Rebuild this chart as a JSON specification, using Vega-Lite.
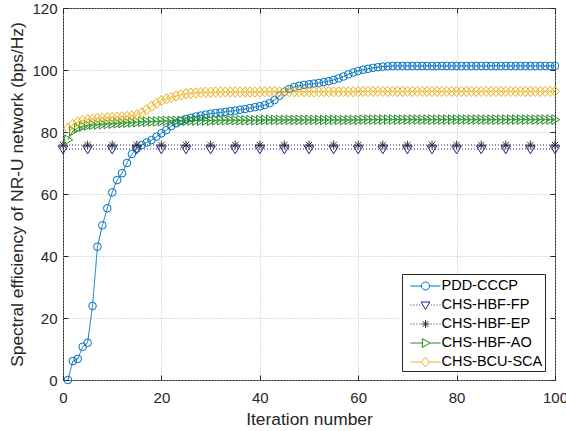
{
  "$schema": "https://vega.github.io/schema/vega-lite/v6.json",
  "width": 492,
  "height": 372,
  "autosize": {"type": "none"},
  "padding": {"left": 63, "top": 8, "right": 11, "bottom": 51},
  "background": "white",
  "config": {
    "font": "Liberation Sans",
    "view": {"stroke": "#262626", "strokeWidth": 1}
  },
  "data": {"values": [
    {"s":"PDD-CCCP","x":1,"y":0},{"s":"PDD-CCCP","x":2,"y":6.1},{"s":"PDD-CCCP","x":3,"y":6.8},{"s":"PDD-CCCP","x":4,"y":10.7},{"s":"PDD-CCCP","x":5,"y":12.0},
    {"s":"PDD-CCCP","x":6,"y":23.9},{"s":"PDD-CCCP","x":7,"y":43.0},{"s":"PDD-CCCP","x":8,"y":49.9},{"s":"PDD-CCCP","x":9,"y":55.4},{"s":"PDD-CCCP","x":10,"y":60.5},
    {"s":"PDD-CCCP","x":11,"y":64.5},{"s":"PDD-CCCP","x":12,"y":66.7},{"s":"PDD-CCCP","x":13,"y":70.0},{"s":"PDD-CCCP","x":14,"y":72.9},{"s":"PDD-CCCP","x":15,"y":74.7},
    {"s":"PDD-CCCP","x":16,"y":75.8},{"s":"PDD-CCCP","x":17,"y":76.6},{"s":"PDD-CCCP","x":18,"y":77.4},{"s":"PDD-CCCP","x":19,"y":78.5},{"s":"PDD-CCCP","x":20,"y":79.6},
    {"s":"PDD-CCCP","x":21,"y":80.6},{"s":"PDD-CCCP","x":22,"y":81.9},{"s":"PDD-CCCP","x":23,"y":82.8},{"s":"PDD-CCCP","x":24,"y":83.6},{"s":"PDD-CCCP","x":25,"y":84.2},
    {"s":"PDD-CCCP","x":26,"y":84.6},{"s":"PDD-CCCP","x":27,"y":85.0},{"s":"PDD-CCCP","x":28,"y":85.3},{"s":"PDD-CCCP","x":29,"y":85.6},{"s":"PDD-CCCP","x":30,"y":85.9},
    {"s":"PDD-CCCP","x":31,"y":86.1},{"s":"PDD-CCCP","x":32,"y":86.3},{"s":"PDD-CCCP","x":33,"y":86.5},{"s":"PDD-CCCP","x":34,"y":86.7},{"s":"PDD-CCCP","x":35,"y":86.9},
    {"s":"PDD-CCCP","x":36,"y":87.2},{"s":"PDD-CCCP","x":37,"y":87.4},{"s":"PDD-CCCP","x":38,"y":87.7},{"s":"PDD-CCCP","x":39,"y":88.0},{"s":"PDD-CCCP","x":40,"y":88.3},
    {"s":"PDD-CCCP","x":41,"y":88.7},{"s":"PDD-CCCP","x":42,"y":89.3},{"s":"PDD-CCCP","x":43,"y":90.3},{"s":"PDD-CCCP","x":44,"y":91.7},{"s":"PDD-CCCP","x":45,"y":93.0},
    {"s":"PDD-CCCP","x":46,"y":93.9},{"s":"PDD-CCCP","x":47,"y":94.5},{"s":"PDD-CCCP","x":48,"y":94.9},{"s":"PDD-CCCP","x":49,"y":95.2},{"s":"PDD-CCCP","x":50,"y":95.4},
    {"s":"PDD-CCCP","x":51,"y":95.6},{"s":"PDD-CCCP","x":52,"y":95.8},{"s":"PDD-CCCP","x":53,"y":96.1},{"s":"PDD-CCCP","x":54,"y":96.4},{"s":"PDD-CCCP","x":55,"y":96.8},
    {"s":"PDD-CCCP","x":56,"y":97.3},{"s":"PDD-CCCP","x":57,"y":97.9},{"s":"PDD-CCCP","x":58,"y":98.6},{"s":"PDD-CCCP","x":59,"y":99.2},{"s":"PDD-CCCP","x":60,"y":99.7},
    {"s":"PDD-CCCP","x":61,"y":100.1},{"s":"PDD-CCCP","x":62,"y":100.4},{"s":"PDD-CCCP","x":63,"y":100.7},{"s":"PDD-CCCP","x":64,"y":100.9},{"s":"PDD-CCCP","x":65,"y":101.1},
    {"s":"PDD-CCCP","x":66,"y":101.2},{"s":"PDD-CCCP","x":67,"y":101.3},{"s":"PDD-CCCP","x":68,"y":101.3},{"s":"PDD-CCCP","x":69,"y":101.3},{"s":"PDD-CCCP","x":70,"y":101.3},
    {"s":"PDD-CCCP","x":71,"y":101.3},{"s":"PDD-CCCP","x":72,"y":101.3},{"s":"PDD-CCCP","x":73,"y":101.3},{"s":"PDD-CCCP","x":74,"y":101.3},{"s":"PDD-CCCP","x":75,"y":101.3},
    {"s":"PDD-CCCP","x":76,"y":101.3},{"s":"PDD-CCCP","x":77,"y":101.3},{"s":"PDD-CCCP","x":78,"y":101.3},{"s":"PDD-CCCP","x":79,"y":101.3},{"s":"PDD-CCCP","x":80,"y":101.3},
    {"s":"PDD-CCCP","x":81,"y":101.3},{"s":"PDD-CCCP","x":82,"y":101.3},{"s":"PDD-CCCP","x":83,"y":101.3},{"s":"PDD-CCCP","x":84,"y":101.3},{"s":"PDD-CCCP","x":85,"y":101.3},
    {"s":"PDD-CCCP","x":86,"y":101.3},{"s":"PDD-CCCP","x":87,"y":101.3},{"s":"PDD-CCCP","x":88,"y":101.3},{"s":"PDD-CCCP","x":89,"y":101.3},{"s":"PDD-CCCP","x":90,"y":101.3},
    {"s":"PDD-CCCP","x":91,"y":101.3},{"s":"PDD-CCCP","x":92,"y":101.3},{"s":"PDD-CCCP","x":93,"y":101.3},{"s":"PDD-CCCP","x":94,"y":101.3},{"s":"PDD-CCCP","x":95,"y":101.3},
    {"s":"PDD-CCCP","x":96,"y":101.3},{"s":"PDD-CCCP","x":97,"y":101.3},{"s":"PDD-CCCP","x":98,"y":101.3},{"s":"PDD-CCCP","x":99,"y":101.3},{"s":"PDD-CCCP","x":100,"y":101.3},

    {"s":"CHS-HBF-FP","x":0,"y":74.5},{"s":"CHS-HBF-FP","x":5,"y":74.5},{"s":"CHS-HBF-FP","x":10,"y":74.5},{"s":"CHS-HBF-FP","x":15,"y":74.5},{"s":"CHS-HBF-FP","x":20,"y":74.5},
    {"s":"CHS-HBF-FP","x":25,"y":74.5},{"s":"CHS-HBF-FP","x":30,"y":74.5},{"s":"CHS-HBF-FP","x":35,"y":74.5},{"s":"CHS-HBF-FP","x":40,"y":74.5},{"s":"CHS-HBF-FP","x":45,"y":74.5},
    {"s":"CHS-HBF-FP","x":50,"y":74.5},{"s":"CHS-HBF-FP","x":55,"y":74.5},{"s":"CHS-HBF-FP","x":60,"y":74.5},{"s":"CHS-HBF-FP","x":65,"y":74.5},{"s":"CHS-HBF-FP","x":70,"y":74.5},
    {"s":"CHS-HBF-FP","x":75,"y":74.5},{"s":"CHS-HBF-FP","x":80,"y":74.5},{"s":"CHS-HBF-FP","x":85,"y":74.5},{"s":"CHS-HBF-FP","x":90,"y":74.5},{"s":"CHS-HBF-FP","x":95,"y":74.5},
    {"s":"CHS-HBF-FP","x":100,"y":74.5},

    {"s":"CHS-HBF-EP","x":0,"y":75.8},{"s":"CHS-HBF-EP","x":5,"y":75.8},{"s":"CHS-HBF-EP","x":10,"y":75.8},{"s":"CHS-HBF-EP","x":15,"y":75.8},{"s":"CHS-HBF-EP","x":20,"y":75.8},
    {"s":"CHS-HBF-EP","x":25,"y":75.8},{"s":"CHS-HBF-EP","x":30,"y":75.8},{"s":"CHS-HBF-EP","x":35,"y":75.8},{"s":"CHS-HBF-EP","x":40,"y":75.8},{"s":"CHS-HBF-EP","x":45,"y":75.8},
    {"s":"CHS-HBF-EP","x":50,"y":75.8},{"s":"CHS-HBF-EP","x":55,"y":75.8},{"s":"CHS-HBF-EP","x":60,"y":75.8},{"s":"CHS-HBF-EP","x":65,"y":75.8},{"s":"CHS-HBF-EP","x":70,"y":75.8},
    {"s":"CHS-HBF-EP","x":75,"y":75.8},{"s":"CHS-HBF-EP","x":80,"y":75.8},{"s":"CHS-HBF-EP","x":85,"y":75.8},{"s":"CHS-HBF-EP","x":90,"y":75.8},{"s":"CHS-HBF-EP","x":95,"y":75.8},
    {"s":"CHS-HBF-EP","x":100,"y":75.8},

    {"s":"CHS-HBF-AO","x":1,"y":77.5},{"s":"CHS-HBF-AO","x":2,"y":80.3},{"s":"CHS-HBF-AO","x":3,"y":81.3},{"s":"CHS-HBF-AO","x":4,"y":81.8},{"s":"CHS-HBF-AO","x":5,"y":82.1},
    {"s":"CHS-HBF-AO","x":6,"y":82.3},{"s":"CHS-HBF-AO","x":7,"y":82.4},{"s":"CHS-HBF-AO","x":8,"y":82.5},{"s":"CHS-HBF-AO","x":9,"y":82.6},{"s":"CHS-HBF-AO","x":10,"y":82.7},
    {"s":"CHS-HBF-AO","x":11,"y":82.8},{"s":"CHS-HBF-AO","x":12,"y":82.9},{"s":"CHS-HBF-AO","x":13,"y":83.0},{"s":"CHS-HBF-AO","x":14,"y":83.1},{"s":"CHS-HBF-AO","x":15,"y":83.2},
    {"s":"CHS-HBF-AO","x":16,"y":83.3},{"s":"CHS-HBF-AO","x":17,"y":83.3},{"s":"CHS-HBF-AO","x":18,"y":83.4},{"s":"CHS-HBF-AO","x":19,"y":83.4},{"s":"CHS-HBF-AO","x":20,"y":83.5},
    {"s":"CHS-HBF-AO","x":21,"y":83.6},{"s":"CHS-HBF-AO","x":22,"y":83.6},{"s":"CHS-HBF-AO","x":23,"y":83.6},{"s":"CHS-HBF-AO","x":24,"y":83.6},{"s":"CHS-HBF-AO","x":25,"y":83.6},
    {"s":"CHS-HBF-AO","x":26,"y":83.7},{"s":"CHS-HBF-AO","x":27,"y":83.7},{"s":"CHS-HBF-AO","x":28,"y":83.7},{"s":"CHS-HBF-AO","x":29,"y":83.7},{"s":"CHS-HBF-AO","x":30,"y":83.7},
    {"s":"CHS-HBF-AO","x":31,"y":83.8},{"s":"CHS-HBF-AO","x":32,"y":83.8},{"s":"CHS-HBF-AO","x":33,"y":83.8},{"s":"CHS-HBF-AO","x":34,"y":83.8},{"s":"CHS-HBF-AO","x":35,"y":83.8},
    {"s":"CHS-HBF-AO","x":36,"y":83.8},{"s":"CHS-HBF-AO","x":37,"y":83.8},{"s":"CHS-HBF-AO","x":38,"y":83.8},{"s":"CHS-HBF-AO","x":39,"y":83.8},{"s":"CHS-HBF-AO","x":40,"y":83.8},
    {"s":"CHS-HBF-AO","x":41,"y":83.9},{"s":"CHS-HBF-AO","x":42,"y":83.9},{"s":"CHS-HBF-AO","x":43,"y":83.9},{"s":"CHS-HBF-AO","x":44,"y":83.9},{"s":"CHS-HBF-AO","x":45,"y":83.9},
    {"s":"CHS-HBF-AO","x":46,"y":83.9},{"s":"CHS-HBF-AO","x":47,"y":83.9},{"s":"CHS-HBF-AO","x":48,"y":83.9},{"s":"CHS-HBF-AO","x":49,"y":83.9},{"s":"CHS-HBF-AO","x":50,"y":83.9},
    {"s":"CHS-HBF-AO","x":51,"y":83.9},{"s":"CHS-HBF-AO","x":52,"y":83.9},{"s":"CHS-HBF-AO","x":53,"y":83.9},{"s":"CHS-HBF-AO","x":54,"y":83.9},{"s":"CHS-HBF-AO","x":55,"y":83.9},
    {"s":"CHS-HBF-AO","x":56,"y":83.9},{"s":"CHS-HBF-AO","x":57,"y":83.9},{"s":"CHS-HBF-AO","x":58,"y":83.9},{"s":"CHS-HBF-AO","x":59,"y":83.9},{"s":"CHS-HBF-AO","x":60,"y":83.9},
    {"s":"CHS-HBF-AO","x":61,"y":84.0},{"s":"CHS-HBF-AO","x":62,"y":84.0},{"s":"CHS-HBF-AO","x":63,"y":84.0},{"s":"CHS-HBF-AO","x":64,"y":84.0},{"s":"CHS-HBF-AO","x":65,"y":84.0},
    {"s":"CHS-HBF-AO","x":66,"y":84.0},{"s":"CHS-HBF-AO","x":67,"y":84.0},{"s":"CHS-HBF-AO","x":68,"y":84.0},{"s":"CHS-HBF-AO","x":69,"y":84.0},{"s":"CHS-HBF-AO","x":70,"y":84.0},
    {"s":"CHS-HBF-AO","x":71,"y":84.0},{"s":"CHS-HBF-AO","x":72,"y":84.0},{"s":"CHS-HBF-AO","x":73,"y":84.0},{"s":"CHS-HBF-AO","x":74,"y":84.0},{"s":"CHS-HBF-AO","x":75,"y":84.0},
    {"s":"CHS-HBF-AO","x":76,"y":84.0},{"s":"CHS-HBF-AO","x":77,"y":84.0},{"s":"CHS-HBF-AO","x":78,"y":84.0},{"s":"CHS-HBF-AO","x":79,"y":84.0},{"s":"CHS-HBF-AO","x":80,"y":84.0},
    {"s":"CHS-HBF-AO","x":81,"y":84.0},{"s":"CHS-HBF-AO","x":82,"y":84.0},{"s":"CHS-HBF-AO","x":83,"y":84.0},{"s":"CHS-HBF-AO","x":84,"y":84.0},{"s":"CHS-HBF-AO","x":85,"y":84.0},
    {"s":"CHS-HBF-AO","x":86,"y":84.0},{"s":"CHS-HBF-AO","x":87,"y":84.0},{"s":"CHS-HBF-AO","x":88,"y":84.0},{"s":"CHS-HBF-AO","x":89,"y":84.0},{"s":"CHS-HBF-AO","x":90,"y":84.0},
    {"s":"CHS-HBF-AO","x":91,"y":84.0},{"s":"CHS-HBF-AO","x":92,"y":84.0},{"s":"CHS-HBF-AO","x":93,"y":84.0},{"s":"CHS-HBF-AO","x":94,"y":84.0},{"s":"CHS-HBF-AO","x":95,"y":84.0},
    {"s":"CHS-HBF-AO","x":96,"y":84.0},{"s":"CHS-HBF-AO","x":97,"y":84.0},{"s":"CHS-HBF-AO","x":98,"y":84.0},{"s":"CHS-HBF-AO","x":99,"y":84.0},{"s":"CHS-HBF-AO","x":100,"y":84.0},

    {"s":"CHS-BCU-SCA","x":1,"y":81.2},{"s":"CHS-BCU-SCA","x":2,"y":82.4},{"s":"CHS-BCU-SCA","x":3,"y":83.2},{"s":"CHS-BCU-SCA","x":4,"y":83.7},{"s":"CHS-BCU-SCA","x":5,"y":84.0},
    {"s":"CHS-BCU-SCA","x":6,"y":84.2},{"s":"CHS-BCU-SCA","x":7,"y":84.4},{"s":"CHS-BCU-SCA","x":8,"y":84.5},{"s":"CHS-BCU-SCA","x":9,"y":84.6},{"s":"CHS-BCU-SCA","x":10,"y":84.7},
    {"s":"CHS-BCU-SCA","x":11,"y":84.8},{"s":"CHS-BCU-SCA","x":12,"y":84.9},{"s":"CHS-BCU-SCA","x":13,"y":85.0},{"s":"CHS-BCU-SCA","x":14,"y":85.2},{"s":"CHS-BCU-SCA","x":15,"y":85.5},
    {"s":"CHS-BCU-SCA","x":16,"y":86.2},{"s":"CHS-BCU-SCA","x":17,"y":87.2},{"s":"CHS-BCU-SCA","x":18,"y":88.3},{"s":"CHS-BCU-SCA","x":19,"y":89.3},{"s":"CHS-BCU-SCA","x":20,"y":90.1},
    {"s":"CHS-BCU-SCA","x":21,"y":90.7},{"s":"CHS-BCU-SCA","x":22,"y":91.2},{"s":"CHS-BCU-SCA","x":23,"y":91.6},{"s":"CHS-BCU-SCA","x":24,"y":92.0},{"s":"CHS-BCU-SCA","x":25,"y":92.3},
    {"s":"CHS-BCU-SCA","x":26,"y":92.5},{"s":"CHS-BCU-SCA","x":27,"y":92.6},{"s":"CHS-BCU-SCA","x":28,"y":92.7},{"s":"CHS-BCU-SCA","x":29,"y":92.8},{"s":"CHS-BCU-SCA","x":30,"y":92.8},
    {"s":"CHS-BCU-SCA","x":31,"y":92.9},{"s":"CHS-BCU-SCA","x":32,"y":92.9},{"s":"CHS-BCU-SCA","x":33,"y":92.9},{"s":"CHS-BCU-SCA","x":34,"y":92.9},{"s":"CHS-BCU-SCA","x":35,"y":92.9},
    {"s":"CHS-BCU-SCA","x":36,"y":92.9},{"s":"CHS-BCU-SCA","x":37,"y":92.9},{"s":"CHS-BCU-SCA","x":38,"y":92.9},{"s":"CHS-BCU-SCA","x":39,"y":92.9},{"s":"CHS-BCU-SCA","x":40,"y":92.9},
    {"s":"CHS-BCU-SCA","x":41,"y":93.0},{"s":"CHS-BCU-SCA","x":42,"y":93.0},{"s":"CHS-BCU-SCA","x":43,"y":93.0},{"s":"CHS-BCU-SCA","x":44,"y":93.0},{"s":"CHS-BCU-SCA","x":45,"y":93.0},
    {"s":"CHS-BCU-SCA","x":46,"y":93.0},{"s":"CHS-BCU-SCA","x":47,"y":93.0},{"s":"CHS-BCU-SCA","x":48,"y":93.0},{"s":"CHS-BCU-SCA","x":49,"y":93.0},{"s":"CHS-BCU-SCA","x":50,"y":93.0},
    {"s":"CHS-BCU-SCA","x":51,"y":93.0},{"s":"CHS-BCU-SCA","x":52,"y":93.0},{"s":"CHS-BCU-SCA","x":53,"y":93.0},{"s":"CHS-BCU-SCA","x":54,"y":93.0},{"s":"CHS-BCU-SCA","x":55,"y":93.0},
    {"s":"CHS-BCU-SCA","x":56,"y":93.0},{"s":"CHS-BCU-SCA","x":57,"y":93.0},{"s":"CHS-BCU-SCA","x":58,"y":93.0},{"s":"CHS-BCU-SCA","x":59,"y":93.0},{"s":"CHS-BCU-SCA","x":60,"y":93.0},
    {"s":"CHS-BCU-SCA","x":61,"y":93.1},{"s":"CHS-BCU-SCA","x":62,"y":93.1},{"s":"CHS-BCU-SCA","x":63,"y":93.1},{"s":"CHS-BCU-SCA","x":64,"y":93.1},{"s":"CHS-BCU-SCA","x":65,"y":93.1},
    {"s":"CHS-BCU-SCA","x":66,"y":93.1},{"s":"CHS-BCU-SCA","x":67,"y":93.1},{"s":"CHS-BCU-SCA","x":68,"y":93.1},{"s":"CHS-BCU-SCA","x":69,"y":93.1},{"s":"CHS-BCU-SCA","x":70,"y":93.1},
    {"s":"CHS-BCU-SCA","x":71,"y":93.1},{"s":"CHS-BCU-SCA","x":72,"y":93.1},{"s":"CHS-BCU-SCA","x":73,"y":93.1},{"s":"CHS-BCU-SCA","x":74,"y":93.1},{"s":"CHS-BCU-SCA","x":75,"y":93.1},
    {"s":"CHS-BCU-SCA","x":76,"y":93.1},{"s":"CHS-BCU-SCA","x":77,"y":93.1},{"s":"CHS-BCU-SCA","x":78,"y":93.1},{"s":"CHS-BCU-SCA","x":79,"y":93.1},{"s":"CHS-BCU-SCA","x":80,"y":93.1},
    {"s":"CHS-BCU-SCA","x":81,"y":93.1},{"s":"CHS-BCU-SCA","x":82,"y":93.1},{"s":"CHS-BCU-SCA","x":83,"y":93.1},{"s":"CHS-BCU-SCA","x":84,"y":93.1},{"s":"CHS-BCU-SCA","x":85,"y":93.1},
    {"s":"CHS-BCU-SCA","x":86,"y":93.1},{"s":"CHS-BCU-SCA","x":87,"y":93.1},{"s":"CHS-BCU-SCA","x":88,"y":93.1},{"s":"CHS-BCU-SCA","x":89,"y":93.1},{"s":"CHS-BCU-SCA","x":90,"y":93.1},
    {"s":"CHS-BCU-SCA","x":91,"y":93.1},{"s":"CHS-BCU-SCA","x":92,"y":93.1},{"s":"CHS-BCU-SCA","x":93,"y":93.1},{"s":"CHS-BCU-SCA","x":94,"y":93.1},{"s":"CHS-BCU-SCA","x":95,"y":93.1},
    {"s":"CHS-BCU-SCA","x":96,"y":93.1},{"s":"CHS-BCU-SCA","x":97,"y":93.1},{"s":"CHS-BCU-SCA","x":98,"y":93.1},{"s":"CHS-BCU-SCA","x":99,"y":93.1},{"s":"CHS-BCU-SCA","x":100,"y":93.1}
  ]},
  "layer": [
    {
      "mark": {"type": "line", "strokeWidth": 1, "clip": false},
      "encoding": {
        "x": {"field": "x", "type": "quantitative", "scale": {"domain": [0, 100], "nice": false, "zero": false},
          "axis": {"orient": "bottom", "title": "Iteration number", "values": [0, 20, 40, 60, 80, 100], "grid": true, "gridColor": "#b8b8b8", "gridDash": [1, 2], "domain": false, "ticks": true, "tickSize": -5, "tickColor": "#262626", "labelPadding": 15, "labelFontSize": 15, "labelColor": "#262626", "labelFlush": false, "titleFontSize": 17.4, "titleFontWeight": "normal", "titleColor": "#262626", "titlePadding": 5}},
        "y": {"field": "y", "type": "quantitative", "scale": {"domain": [0, 120], "nice": false},
          "axis": {"orient": "left", "title": "Spectral efficiency of NR-U network (bps/Hz)", "values": [0, 20, 40, 60, 80, 100, 120], "grid": true, "gridColor": "#b8b8b8", "gridDash": [1, 2], "domain": false, "ticks": true, "tickSize": -5, "tickColor": "#262626", "labelPadding": 11, "labelFontSize": 15, "labelColor": "#262626", "labelFlush": false, "titleFontSize": 17.4, "titleFontWeight": "normal", "titleColor": "#262626", "titlePadding": 5}},
        "stroke": {"field": "s", "type": "nominal",
          "scale": {"domain": ["CHS-BCU-SCA", "CHS-HBF-AO", "CHS-HBF-EP", "CHS-HBF-FP", "PDD-CCCP"], "range": ["#EDB120", "#228b22", "#333333", "#20208f", "#0072BD"]},
          "legend": null},
        "strokeDash": {"field": "s", "type": "nominal",
          "scale": {"domain": ["CHS-HBF-FP", "CHS-HBF-EP", "PDD-CCCP", "CHS-HBF-AO", "CHS-BCU-SCA"], "range": [[1, 2], [1, 2], [1, 0], [1, 0], [1, 0]]},
          "legend": null}
      }
    },
    {
      "transform": [{"filter": "datum.s === 'PDD-CCCP'"}],
      "mark": {"type": "point", "shape": "circle", "size": 58, "filled": false, "strokeWidth": 1, "opacity": 1, "clip": false},
      "encoding": {
        "x": {"field": "x", "type": "quantitative", "axis": null},
        "y": {"field": "y", "type": "quantitative", "axis": null},
        "stroke": {"field": "s", "type": "nominal", "legend": null}
      }
    },
    {
      "transform": [{"filter": "datum.s === 'CHS-HBF-FP'"}],
      "mark": {"type": "point", "shape": "M-1.2,-0.8L1.2,-0.8L0,1.2Z", "size": 64, "filled": false, "strokeWidth": 1, "opacity": 1, "clip": false},
      "encoding": {
        "x": {"field": "x", "type": "quantitative", "axis": null},
        "y": {"field": "y", "type": "quantitative", "axis": null},
        "stroke": {"field": "s", "type": "nominal", "legend": null}
      }
    },
    {
      "transform": [{"filter": "datum.s === 'CHS-HBF-EP'"}],
      "mark": {"type": "point", "shape": "M-1.1,0H1.1M0,-1.1V1.1M-0.8,-0.8L0.8,0.8M-0.8,0.8L0.8,-0.8", "size": 64, "filled": false, "strokeWidth": 1, "opacity": 1, "clip": false},
      "encoding": {
        "x": {"field": "x", "type": "quantitative", "axis": null},
        "y": {"field": "y", "type": "quantitative", "axis": null},
        "stroke": {"field": "s", "type": "nominal", "legend": null}
      }
    },
    {
      "transform": [{"filter": "datum.s === 'CHS-HBF-AO'"}],
      "mark": {"type": "point", "shape": "M-0.8,-1.2L1.2,0L-0.8,1.2Z", "size": 64, "filled": false, "strokeWidth": 1, "opacity": 1, "clip": false},
      "encoding": {
        "x": {"field": "x", "type": "quantitative", "axis": null},
        "y": {"field": "y", "type": "quantitative", "axis": null},
        "stroke": {"field": "s", "type": "nominal", "legend": null}
      }
    },
    {
      "transform": [{"filter": "datum.s === 'CHS-BCU-SCA'"}],
      "mark": {"type": "point", "shape": "M-1.1,0L0,-1.3L1.1,0L0,1.3Z", "size": 64, "filled": false, "strokeWidth": 1, "opacity": 1, "clip": false},
      "encoding": {
        "x": {"field": "x", "type": "quantitative", "axis": null},
        "y": {"field": "y", "type": "quantitative", "axis": null},
        "stroke": {"field": "s", "type": "nominal", "legend": null}
      }
    },
    {
      "transform": [{"filter": "datum.x > 1000"}],
      "mark": {"type": "point", "filled": false, "strokeWidth": 1},
      "encoding": {
        "x": {"field": "x", "type": "quantitative",
          "axis": {"orient": "top", "labels": false, "grid": false, "domain": false, "ticks": true, "tickSize": -5, "tickColor": "#262626", "title": null, "values": [0, 20, 40, 60, 80, 100]}},
        "y": {"field": "y", "type": "quantitative",
          "axis": {"orient": "right", "labels": false, "grid": false, "domain": false, "ticks": true, "tickSize": -5, "tickColor": "#262626", "title": null, "values": [0, 20, 40, 60, 80, 100, 120]}},
        "color": {"field": "s", "type": "nominal",
          "scale": {"domain": ["PDD-CCCP", "CHS-HBF-FP", "CHS-HBF-EP", "CHS-HBF-AO", "CHS-BCU-SCA"], "range": ["#0072BD", "#20208f", "#333333", "#228b22", "#EDB120"]},
          "legend": {"orient": "none", "legendX": 339, "legendY": 266, "title": null, "symbolSize": 361, "symbolStrokeWidth": 1, "symbolOpacity": 1, "labelFont": "Liberation Sans", "labelFontSize": 14.5, "labelColor": "#000000", "labelOffset": 6, "symbolOffset": 11.5, "padding": 2, "rowPadding": 2, "strokeColor": "#262626", "fillColor": "#ffffff", "labelExpr": "datum.label + '\u2002\u2009'"}},
        "shape": {"field": "s", "type": "nominal",
          "scale": {"domain": ["PDD-CCCP", "CHS-HBF-FP", "CHS-HBF-EP", "CHS-HBF-AO", "CHS-BCU-SCA"],
            "range": [
              "M-1.58,0H-0.42M0.42,0H1.58M-0.42,0A0.42,0.42,0,1,1,0.42,0A0.42,0.42,0,1,1,-0.42,0",
              "M-1.58,0h0.1M-1.27,0h0.1M-0.96,0h0.1M-0.65,0h0.1M0.55,0h0.1M0.86,0h0.1M1.17,0h0.1M1.48,0h0.1M-0.47,-0.32L0.47,-0.32L0,0.47Z",
              "M-1.58,0h0.1M-1.27,0h0.1M-0.96,0h0.1M-0.65,0h0.1M0.55,0h0.1M0.86,0h0.1M1.17,0h0.1M1.48,0h0.1M-0.42,0H0.42M0,-0.42V0.42M-0.3,-0.3L0.3,0.3M-0.3,0.3L0.3,-0.3",
              "M-1.58,0H-0.33M0.47,0H1.58M-0.33,-0.47L0.47,0L-0.33,0.47Z",
              "M-1.58,0H-0.42M0.42,0H1.58M-0.42,0L0,-0.5L0.42,0L0,0.5Z"
            ]},
          "legend": {"orient": "none", "legendX": 339, "legendY": 266, "title": null, "symbolSize": 361, "symbolStrokeWidth": 1, "symbolOpacity": 1, "labelFont": "Liberation Sans", "labelFontSize": 14.5, "labelColor": "#000000", "labelOffset": 6, "symbolOffset": 11.5, "padding": 2, "rowPadding": 2, "strokeColor": "#262626", "fillColor": "#ffffff", "labelExpr": "datum.label + '\u2002\u2009'"}}
      }
    }
  ],
  "resolve": {"axis": {"x": "independent", "y": "independent"}}
}
